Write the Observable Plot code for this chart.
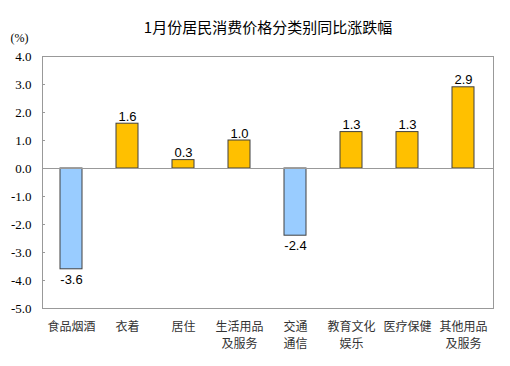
<!DOCTYPE html>
<html><head><meta charset="utf-8">
<script src="https://cdn.jsdelivr.net/npm/d3@7"></script>
<script src="https://cdn.jsdelivr.net/npm/@observablehq/plot@0.6"></script>
<style>body{margin:0;background:#fff}
g[aria-label="y-axis tick label"] text{font-family:'Liberation Serif','Times New Roman',serif}</style>
</head><body><div id="chart"></div>
<script>
const categories = ["食品烟酒","衣着","居住","生活用品及服务","交通通信","教育文化娱乐","医疗保健","其他用品及服务"];
const labels = ["食品烟酒","衣着","居住","生活用品\n及服务","交通\n通信","教育文化\n娱乐","医疗保健","其他用品\n及服务"];
const values = [-3.6, 1.6, 0.3, 1.0, -2.4, 1.3, 1.3, 2.9];
const yTicks = [-5,-4,-3,-2,-1,0,1,2,3,4];
const title = "1月份居民消费价格分类别同比涨跌幅";

const data = categories.map((c,i)=>({c, label: labels[i], v: values[i]}));
const labelMap = new Map(categories.map((c,i)=>[c, labels[i]]));
const cjk = "'Noto Sans CJK SC', sans-serif";
const serif = "'Liberation Serif', 'Times New Roman', serif";
const sans = "'Liberation Sans', Arial, sans-serif";

const chart = Plot.plot({
  width: 510, height: 366,
  marginLeft: 42, marginRight: 17, marginTop: 56, marginBottom: 58,
  style: {background: "#fff", fontFamily: serif},
  x: {domain: categories, paddingInner: 0.6, paddingOuter: 0.3, label: null},
  y: {domain: [-5, 4], label: null},
  marks: [
    Plot.frame({stroke: "#999", strokeWidth: 1}),
    Plot.axisY({ticks: yTicks, tickFormat: d => d.toFixed(1), tickSize: -3, tickPadding: 14, stroke: "#999",
      fontFamily: serif, fontSize: 13, fill: "#000", label: null}),
    Plot.axisX({tickSize: 0, tickPadding: 10, fontSize: 12, fill: "#333", fontFamily: cjk, lineHeight: 1.45,
      tickFormat: d => labelMap.get(d), label: null}),
    Plot.barY(data, {x: "c", y: "v", fill: d => d.v >= 0 ? "#FFC000" : "#99CCFF", stroke: "#404040", strokeWidth: 1}),
    Plot.ruleY([0], {stroke: "#999", strokeWidth: 1}),
    Plot.text(data.filter(d => d.v >= 0), {x: "c", y: "v", text: d => d.v.toFixed(1),
      lineAnchor: "bottom", fontFamily: sans, fontSize: 13, fill: "#000", dy: -3}),
    Plot.text(data.filter(d => d.v < 0), {x: "c", y: "v", text: d => d.v.toFixed(1),
      lineAnchor: "top", fontFamily: sans, fontSize: 13, fill: "#000", dy: 5}),
    Plot.text([title], {frameAnchor: "top", dy: -28, fontSize: 15, fontFamily: cjk, fill: "#000", lineAnchor: "middle"}),
    Plot.text(["(%)"], {frameAnchor: "top-left", dx: -32, dy: -18, fontSize: 12, fontFamily: serif, fill: "#000", textAnchor: "start", lineAnchor: "middle"})
  ]
});
document.getElementById("chart").append(chart);
</script></body></html>
